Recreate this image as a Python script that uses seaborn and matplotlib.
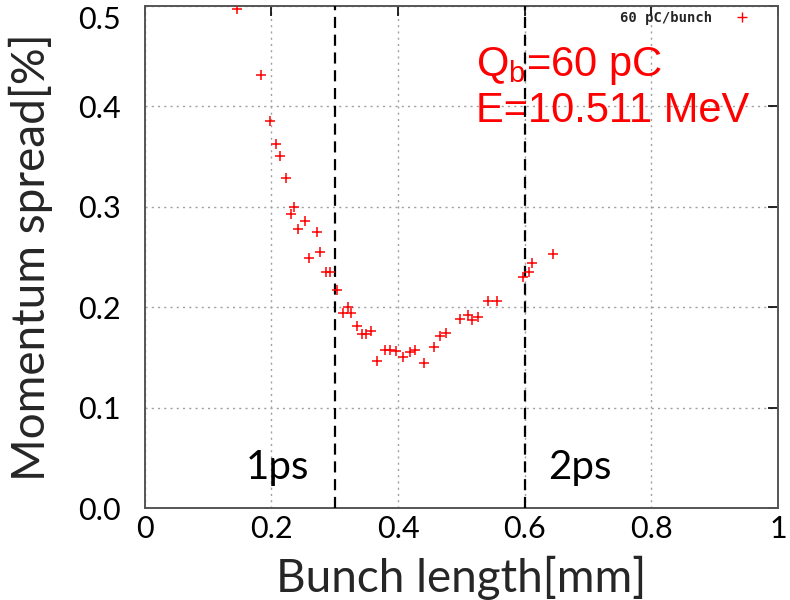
import matplotlib
matplotlib.use("Agg")
import matplotlib.pyplot as plt
import seaborn as sns
import pandas as pd
from matplotlib.lines import Line2D

# ---- data ----
bunch_length = [0.1465, 0.1844, 0.1976, 0.2076, 0.2144, 0.2228, 0.2365, 0.2307,
                0.2528, 0.2423, 0.2718, 0.2776, 0.2597, 0.2860, 0.2928, 0.3033,
                0.3207, 0.3139, 0.3265, 0.3349, 0.3428, 0.3496, 0.3570, 0.3796,
                0.3880, 0.3970, 0.3670, 0.4085, 0.4191, 0.4270, 0.4417, 0.4570,
                0.4665, 0.4759, 0.4980, 0.5112, 0.5170, 0.5264, 0.5417, 0.5559,
                0.5980, 0.6069, 0.6122, 0.6453]
momentum_spread = [0.497, 0.431, 0.386, 0.363, 0.351, 0.329, 0.300, 0.293,
                   0.286, 0.278, 0.275, 0.255, 0.249, 0.235, 0.235, 0.217,
                   0.200, 0.194, 0.194, 0.181, 0.173, 0.173, 0.176, 0.158,
                   0.158, 0.157, 0.147, 0.151, 0.156, 0.158, 0.145, 0.160,
                   0.171, 0.174, 0.188, 0.192, 0.187, 0.190, 0.206, 0.206,
                   0.230, 0.235, 0.244, 0.253]
series_label = "60 pC/bunch"
x_ticks = [0, 0.2, 0.4, 0.6, 0.8, 1]
x_tick_labels = ["0", "0.2", "0.4", "0.6", "0.8", "1"]
y_ticks = [0.0, 0.1, 0.2, 0.3, 0.4, 0.5]
y_tick_labels = ["0.0", "0.1", "0.2", "0.3", "0.4", "0.5"]
boundaries = [0.3, 0.6]
region_labels = ["1ps", "2ps"]
region_label_x = [0.159, 0.637]

df = pd.DataFrame({"x": bunch_length, "y": momentum_spread})

sns.set_style("white")
narrow = ["Lato", "DejaVu Sans"]
plt.rcParams["font.family"] = narrow

fig = plt.figure(figsize=(7.9, 6.0), dpi=100)
ax = fig.add_axes([0.183, 0.153, 0.802, 0.837])

sns.scatterplot(data=df, x="x", y="y", marker="+", color="#ff0000", s=60,
                linewidth=1.1, ax=ax, legend=False, zorder=5)

ax.set_xlim(0, 1)
ax.set_ylim(0, 0.5)
ax.set_xticks(x_ticks)
ax.set_xticklabels(x_tick_labels)
ax.set_yticks(y_ticks)
ax.set_yticklabels(y_tick_labels)
ax.tick_params(direction="in", length=7, width=1.2, top=True, right=True,
               labelsize=22, colors="black")
ax.tick_params(axis="x", pad=5)
ax.tick_params(axis="y", pad=17)
ax.get_yticklabels()[-1].set_va("top")

ax.grid(True, linestyle=(0, (1.5, 3)), color="#a0a0a0", linewidth=1.0)
for sp in ax.spines.values():
    sp.set_color("#555555")
    sp.set_linewidth(1.4)

for b in boundaries:
    ax.axvline(b, color="black", linestyle=(0, (5, 3)), linewidth=1.6, zorder=4)

for lab, xx in zip(region_labels, region_label_x):
    ax.text(xx, 0.041, lab, fontsize=29, va="center", ha="left", color="black")

ax.text(0.523, 0.440, r"Q$_\mathregular{b}$=60 pC", fontsize=30, color="#ff0000",
        va="center", ha="left", family=["Liberation Sans", "DejaVu Sans"])
ax.text(0.523, 0.395, "E=10.511 MeV", fontsize=30, color="#ff0000",
        va="center", ha="left", family=["Liberation Sans", "DejaVu Sans"])

handle = Line2D([], [], marker="+", color="#ff0000", linestyle="none",
                markersize=7, markeredgewidth=1.0)
leg = ax.legend([handle], [series_label], loc="upper right", frameon=False,
                markerfirst=False, bbox_to_anchor=(0.985, 1.015),
                prop={"family": "DejaVu Sans Mono", "weight": "bold", "size": 10},
                handletextpad=1.2)

ax.set_xlabel("Bunch length[mm]", fontsize=33, labelpad=9)
ax.set_ylabel("Momentum spread[%]", fontsize=33, labelpad=18)

fig.savefig("out.png", dpi=100)
